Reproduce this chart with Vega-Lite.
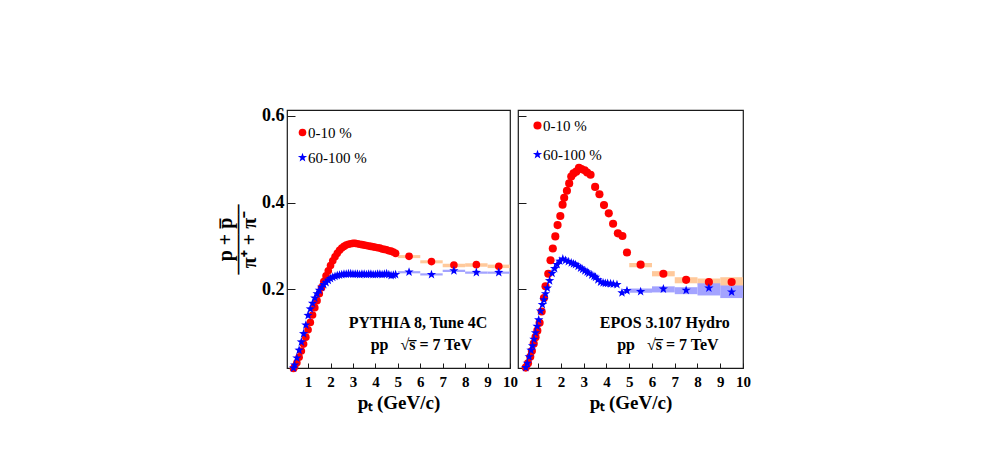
{
  "$schema": "https://vega.github.io/schema/vega-lite/v6.json",
  "background": "white",
  "padding": {"left": 214, "top": 106, "right": 5, "bottom": 5},
  "config": {
    "view": {"stroke": "#1a1a1a", "strokeWidth": 1.2},
    "font": "Liberation Serif",
    "axis": {"grid": false, "domain": false, "tickColor": "#1a1a1a", "labelColor": "black", "titleColor": "black", "labelFont": "Liberation Serif", "titleFont": "Liberation Serif", "labelFontWeight": "bold", "titleFontWeight": "bold", "labelOverlap": false, "labelFlush": false, "labelSeparation": 0},
    "axisX": {"tickSize": -5, "labelFontSize": 15, "labelPadding": 11, "titleFontSize": 19, "titlePadding": 4},
    "axisY": {"tickSize": -8, "labelFontSize": 18, "labelPadding": 11},
    "legend": {"orient": "none", "labelFont": "Liberation Serif", "labelFontSize": 15, "labelColor": "black", "symbolSize": 60, "labelOffset": -2, "symbolStrokeWidth": 0, "padding": 0}
  },
  "datasets": {
    "py": [
      {"pt":0.35,"v":0.018,"s":"0-10 %"},{"pt":0.4,"v":0.022,"s":"0-10 %"},{"pt":0.5,"v":0.031,"s":"0-10 %"},{"pt":0.6,"v":0.044,"s":"0-10 %"},{"pt":0.7,"v":0.058,"s":"0-10 %"},{"pt":0.8,"v":0.074,"s":"0-10 %"},{"pt":0.9,"v":0.09,"s":"0-10 %"},{"pt":1.0,"v":0.107,"s":"0-10 %"},{"pt":1.1,"v":0.124,"s":"0-10 %"},{"pt":1.2,"v":0.141,"s":"0-10 %"},{"pt":1.3,"v":0.158,"s":"0-10 %"},{"pt":1.4,"v":0.174,"s":"0-10 %"},{"pt":1.5,"v":0.19,"s":"0-10 %"},{"pt":1.6,"v":0.204,"s":"0-10 %"},{"pt":1.7,"v":0.218,"s":"0-10 %"},{"pt":1.8,"v":0.231,"s":"0-10 %"},{"pt":1.9,"v":0.243,"s":"0-10 %"},{"pt":2.0,"v":0.255,"s":"0-10 %"},{"pt":2.1,"v":0.266,"s":"0-10 %"},{"pt":2.2,"v":0.275,"s":"0-10 %"},{"pt":2.3,"v":0.283,"s":"0-10 %"},{"pt":2.4,"v":0.29,"s":"0-10 %"},{"pt":2.5,"v":0.295,"s":"0-10 %"},{"pt":2.6,"v":0.299,"s":"0-10 %"},{"pt":2.7,"v":0.302,"s":"0-10 %"},{"pt":2.8,"v":0.304,"s":"0-10 %"},{"pt":2.9,"v":0.305,"s":"0-10 %"},{"pt":3.0,"v":0.306,"s":"0-10 %"},{"pt":3.1,"v":0.306,"s":"0-10 %"},{"pt":3.2,"v":0.305,"s":"0-10 %"},{"pt":3.3,"v":0.304,"s":"0-10 %"},{"pt":3.4,"v":0.303,"s":"0-10 %"},{"pt":3.5,"v":0.302,"s":"0-10 %"},{"pt":3.6,"v":0.301,"s":"0-10 %"},{"pt":3.7,"v":0.3,"s":"0-10 %"},{"pt":3.8,"v":0.299,"s":"0-10 %"},{"pt":3.9,"v":0.298,"s":"0-10 %"},{"pt":4.0,"v":0.297,"s":"0-10 %"},{"pt":4.1,"v":0.296,"s":"0-10 %"},{"pt":4.2,"v":0.295,"s":"0-10 %"},{"pt":4.3,"v":0.293,"s":"0-10 %"},{"pt":4.4,"v":0.292,"s":"0-10 %"},{"pt":4.5,"v":0.291,"s":"0-10 %"},{"pt":4.6,"v":0.289,"s":"0-10 %"},{"pt":4.7,"v":0.288,"s":"0-10 %"},{"pt":4.8,"v":0.286,"s":"0-10 %"},{"pt":4.9,"v":0.283,"s":"0-10 %"},{"pt":5.5,"v":0.276,"s":"0-10 %"},{"pt":6.5,"v":0.264,"s":"0-10 %"},{"pt":7.5,"v":0.256,"s":"0-10 %"},{"pt":8.5,"v":0.257,"s":"0-10 %"},{"pt":9.5,"v":0.253,"s":"0-10 %"},
      {"pt":0.35,"v":0.019,"s":"60-100 %"},{"pt":0.4,"v":0.026,"s":"60-100 %"},{"pt":0.5,"v":0.042,"s":"60-100 %"},{"pt":0.6,"v":0.06,"s":"60-100 %"},{"pt":0.7,"v":0.079,"s":"60-100 %"},{"pt":0.8,"v":0.098,"s":"60-100 %"},{"pt":0.9,"v":0.118,"s":"60-100 %"},{"pt":1.0,"v":0.14,"s":"60-100 %"},{"pt":1.1,"v":0.155,"s":"60-100 %"},{"pt":1.2,"v":0.168,"s":"60-100 %"},{"pt":1.3,"v":0.18,"s":"60-100 %"},{"pt":1.4,"v":0.19,"s":"60-100 %"},{"pt":1.5,"v":0.198,"s":"60-100 %"},{"pt":1.6,"v":0.205,"s":"60-100 %"},{"pt":1.7,"v":0.211,"s":"60-100 %"},{"pt":1.8,"v":0.216,"s":"60-100 %"},{"pt":1.9,"v":0.221,"s":"60-100 %"},{"pt":2.0,"v":0.225,"s":"60-100 %"},{"pt":2.1,"v":0.228,"s":"60-100 %"},{"pt":2.2,"v":0.23,"s":"60-100 %"},{"pt":2.3,"v":0.232,"s":"60-100 %"},{"pt":2.4,"v":0.233,"s":"60-100 %"},{"pt":2.5,"v":0.234,"s":"60-100 %"},{"pt":2.6,"v":0.235,"s":"60-100 %"},{"pt":2.7,"v":0.235,"s":"60-100 %"},{"pt":2.8,"v":0.236,"s":"60-100 %"},{"pt":2.9,"v":0.236,"s":"60-100 %"},{"pt":3.0,"v":0.235,"s":"60-100 %"},{"pt":3.1,"v":0.235,"s":"60-100 %"},{"pt":3.2,"v":0.235,"s":"60-100 %"},{"pt":3.3,"v":0.234,"s":"60-100 %"},{"pt":3.4,"v":0.235,"s":"60-100 %"},{"pt":3.5,"v":0.235,"s":"60-100 %"},{"pt":3.6,"v":0.234,"s":"60-100 %"},{"pt":3.7,"v":0.235,"s":"60-100 %"},{"pt":3.8,"v":0.235,"s":"60-100 %"},{"pt":3.9,"v":0.234,"s":"60-100 %"},{"pt":4.0,"v":0.234,"s":"60-100 %"},{"pt":4.1,"v":0.235,"s":"60-100 %"},{"pt":4.2,"v":0.235,"s":"60-100 %"},{"pt":4.3,"v":0.234,"s":"60-100 %"},{"pt":4.4,"v":0.235,"s":"60-100 %"},{"pt":4.5,"v":0.236,"s":"60-100 %"},{"pt":4.6,"v":0.234,"s":"60-100 %"},{"pt":4.7,"v":0.232,"s":"60-100 %"},{"pt":4.8,"v":0.233,"s":"60-100 %"},{"pt":4.9,"v":0.234,"s":"60-100 %"},{"pt":5.5,"v":0.24,"s":"60-100 %"},{"pt":6.5,"v":0.234,"s":"60-100 %"},{"pt":7.5,"v":0.243,"s":"60-100 %"},{"pt":8.5,"v":0.239,"s":"60-100 %"},{"pt":9.5,"v":0.239,"s":"60-100 %"}
    ],
    "pySys": [
      {"lo":5,"hi":6,"y1":0.272,"y2":0.279,"band":"r"},{"lo":6,"hi":7,"y1":0.26,"y2":0.267,"band":"r"},{"lo":7,"hi":8,"y1":0.251,"y2":0.259,"band":"r"},{"lo":8,"hi":9,"y1":0.252,"y2":0.26,"band":"r"},{"lo":9,"hi":10,"y1":0.249,"y2":0.257,"band":"r"},
      {"lo":5,"hi":6,"y1":0.237,"y2":0.242,"band":"b"},{"lo":6,"hi":7,"y1":0.232,"y2":0.237,"band":"b"},{"lo":7,"hi":8,"y1":0.24,"y2":0.245,"band":"b"},{"lo":8,"hi":9,"y1":0.236,"y2":0.241,"band":"b"},{"lo":9,"hi":10,"y1":0.236,"y2":0.241,"band":"b"}
    ],
    "ep": [
      {"pt":0.45,"v":0.02,"s":"0-10 %"},{"pt":0.55,"v":0.03,"s":"0-10 %"},{"pt":0.65,"v":0.045,"s":"0-10 %"},{"pt":0.72,"v":0.058,"s":"0-10 %"},{"pt":0.8,"v":0.075,"s":"0-10 %"},{"pt":0.88,"v":0.09,"s":"0-10 %"},{"pt":0.96,"v":0.105,"s":"0-10 %"},{"pt":1.06,"v":0.123,"s":"0-10 %"},{"pt":1.15,"v":0.149,"s":"0-10 %"},{"pt":1.25,"v":0.18,"s":"0-10 %"},{"pt":1.32,"v":0.207,"s":"0-10 %"},{"pt":1.44,"v":0.236,"s":"0-10 %"},{"pt":1.54,"v":0.267,"s":"0-10 %"},{"pt":1.64,"v":0.294,"s":"0-10 %"},{"pt":1.75,"v":0.322,"s":"0-10 %"},{"pt":1.85,"v":0.348,"s":"0-10 %"},{"pt":1.97,"v":0.369,"s":"0-10 %"},{"pt":2.07,"v":0.395,"s":"0-10 %"},{"pt":2.14,"v":0.411,"s":"0-10 %"},{"pt":2.26,"v":0.427,"s":"0-10 %"},{"pt":2.36,"v":0.444,"s":"0-10 %"},{"pt":2.45,"v":0.46,"s":"0-10 %"},{"pt":2.55,"v":0.467,"s":"0-10 %"},{"pt":2.67,"v":0.471,"s":"0-10 %"},{"pt":2.79,"v":0.48,"s":"0-10 %"},{"pt":2.9,"v":0.477,"s":"0-10 %"},{"pt":3.04,"v":0.474,"s":"0-10 %"},{"pt":3.15,"v":0.469,"s":"0-10 %"},{"pt":3.3,"v":0.464,"s":"0-10 %"},{"pt":3.5,"v":0.436,"s":"0-10 %"},{"pt":3.69,"v":0.419,"s":"0-10 %"},{"pt":3.89,"v":0.394,"s":"0-10 %"},{"pt":4.1,"v":0.375,"s":"0-10 %"},{"pt":4.29,"v":0.351,"s":"0-10 %"},{"pt":4.5,"v":0.329,"s":"0-10 %"},{"pt":4.7,"v":0.323,"s":"0-10 %"},{"pt":4.9,"v":0.285,"s":"0-10 %"},{"pt":5.5,"v":0.257,"s":"0-10 %"},{"pt":6.5,"v":0.236,"s":"0-10 %"},{"pt":7.5,"v":0.222,"s":"0-10 %"},{"pt":8.5,"v":0.217,"s":"0-10 %"},{"pt":9.5,"v":0.217,"s":"0-10 %"},
      {"pt":0.45,"v":0.02,"s":"60-100 %"},{"pt":0.52,"v":0.03,"s":"60-100 %"},{"pt":0.6,"v":0.045,"s":"60-100 %"},{"pt":0.68,"v":0.06,"s":"60-100 %"},{"pt":0.75,"v":0.07,"s":"60-100 %"},{"pt":0.81,"v":0.085,"s":"60-100 %"},{"pt":0.88,"v":0.1,"s":"60-100 %"},{"pt":0.95,"v":0.115,"s":"60-100 %"},{"pt":1.02,"v":0.13,"s":"60-100 %"},{"pt":1.1,"v":0.15,"s":"60-100 %"},{"pt":1.18,"v":0.165,"s":"60-100 %"},{"pt":1.25,"v":0.176,"s":"60-100 %"},{"pt":1.32,"v":0.19,"s":"60-100 %"},{"pt":1.4,"v":0.203,"s":"60-100 %"},{"pt":1.5,"v":0.22,"s":"60-100 %"},{"pt":1.61,"v":0.237,"s":"60-100 %"},{"pt":1.72,"v":0.248,"s":"60-100 %"},{"pt":1.83,"v":0.257,"s":"60-100 %"},{"pt":1.95,"v":0.265,"s":"60-100 %"},{"pt":2.08,"v":0.27,"s":"60-100 %"},{"pt":2.2,"v":0.267,"s":"60-100 %"},{"pt":2.32,"v":0.264,"s":"60-100 %"},{"pt":2.45,"v":0.261,"s":"60-100 %"},{"pt":2.55,"v":0.259,"s":"60-100 %"},{"pt":2.64,"v":0.257,"s":"60-100 %"},{"pt":2.75,"v":0.253,"s":"60-100 %"},{"pt":2.86,"v":0.249,"s":"60-100 %"},{"pt":2.95,"v":0.246,"s":"60-100 %"},{"pt":3.05,"v":0.243,"s":"60-100 %"},{"pt":3.15,"v":0.24,"s":"60-100 %"},{"pt":3.22,"v":0.237,"s":"60-100 %"},{"pt":3.35,"v":0.233,"s":"60-100 %"},{"pt":3.45,"v":0.23,"s":"60-100 %"},{"pt":3.52,"v":0.228,"s":"60-100 %"},{"pt":3.62,"v":0.222,"s":"60-100 %"},{"pt":3.74,"v":0.217,"s":"60-100 %"},{"pt":3.85,"v":0.215,"s":"60-100 %"},{"pt":3.95,"v":0.214,"s":"60-100 %"},{"pt":4.05,"v":0.214,"s":"60-100 %"},{"pt":4.18,"v":0.213,"s":"60-100 %"},{"pt":4.3,"v":0.212,"s":"60-100 %"},{"pt":4.46,"v":0.211,"s":"60-100 %"},{"pt":4.68,"v":0.192,"s":"60-100 %"},{"pt":4.9,"v":0.197,"s":"60-100 %"},{"pt":5.5,"v":0.195,"s":"60-100 %"},{"pt":6.5,"v":0.201,"s":"60-100 %"},{"pt":7.5,"v":0.198,"s":"60-100 %"},{"pt":8.5,"v":0.203,"s":"60-100 %"},{"pt":9.5,"v":0.194,"s":"60-100 %"}
    ],
    "epSys": [
      {"lo":5,"hi":6,"y1":0.251,"y2":0.261,"band":"r"},{"lo":6,"hi":7,"y1":0.23,"y2":0.242,"band":"r"},{"lo":7,"hi":8,"y1":0.214,"y2":0.228,"band":"r"},{"lo":8,"hi":9,"y1":0.211,"y2":0.225,"band":"r"},{"lo":9,"hi":10,"y1":0.208,"y2":0.228,"band":"r"},
      {"lo":5,"hi":6,"y1":0.192,"y2":0.202,"band":"b"},{"lo":6,"hi":7,"y1":0.193,"y2":0.207,"band":"b"},{"lo":7,"hi":8,"y1":0.189,"y2":0.205,"band":"b"},{"lo":8,"hi":9,"y1":0.186,"y2":0.214,"band":"b"},{"lo":9,"hi":10,"y1":0.18,"y2":0.209,"band":"b"}
    ]
  },
  "bounds": "flush",
  "spacing": 8,
  "resolve": {
    "scale": {"x": "independent", "y": "independent", "color": "independent", "shape": "independent", "fill": "independent", "size": "independent"},
    "legend": {"color": "independent", "shape": "independent"}
  },
  "hconcat": [
    {
      "width": 223,
      "height": 258,
      "layer": [
        {
          "data": {"name": "pySys"},
          "mark": {"type": "rect"},
          "encoding": {
            "x": {"field": "lo", "type": "quantitative", "scale": {"domain": [0.06, 10], "nice": false, "zero": false}, "axis": {"values": [1,2,3,4,5,6,7,8,9,10], "tickCount": 20, "format": "d", "title": "pₜ (GeV/c)"}},
            "x2": {"field": "hi"},
            "y": {"field": "y1", "type": "quantitative", "scale": {"domain": [0.019, 0.613], "nice": false, "zero": false},
              "axis": {"values": [0.2, 0.4, 0.6], "tickCount": 10, "format": ".1f", "title": ["p + p̅", "———–", "π⁺ + π⁻"], "titleFontSize": 20, "titleLineHeight": 12, "titlePadding": 2}},
            "y2": {"field": "y2"},
            "fill": {"field": "band", "type": "nominal", "scale": {"domain": ["r", "b"], "range": ["#ffc99b", "#a3a3ff"]}, "legend": null}
          }
        },
        {
          "data": {"name": "py"},
          "mark": {"type": "point", "filled": true, "opacity": 1},
          "encoding": {
            "x": {"field": "pt", "type": "quantitative"},
            "y": {"field": "v", "type": "quantitative"},
            "color": {"field": "s", "type": "nominal", "scale": {"domain": ["0-10 %", "60-100 %"], "range": ["#ff0000", "#0000ff"]},
              "legend": {"title": null, "legendX": 8, "legendY": 15, "rowPadding": 9}},
            "shape": {"field": "s", "type": "nominal", "scale": {"domain": ["0-10 %", "60-100 %"], "range": ["circle", "M0,-1L0.235,-0.324L0.951,-0.309L0.38,0.124L0.588,0.809L0,0.4L-0.588,0.809L-0.38,0.124L-0.951,-0.309L-0.235,-0.324Z"]},
              "legend": {"title": null, "legendX": 8, "legendY": 15, "rowPadding": 9}},
            "size": {"field": "s", "type": "ordinal", "scale": {"domain": ["0-10 %", "60-100 %"], "range": [58, 95]}, "legend": null}
          }
        },
        {
          "data": {"values": [{}]},
          "mark": {"type": "text", "font": "Liberation Serif", "fontWeight": "bold", "fontSize": 16, "color": "black", "align": "center", "baseline": "middle"},
          "encoding": {"x": {"datum": 5.9}, "y": {"datum": 0.123}, "text": {"value": "PYTHIA 8, Tune 4C"}}
        },
        {
          "data": {"values": [{}]},
          "mark": {"type": "text", "font": "Liberation Serif", "fontWeight": "bold", "fontSize": 16, "color": "black", "align": "center", "baseline": "middle"},
          "encoding": {"x": {"datum": 6.05}, "y": {"datum": 0.071}, "text": {"value": "pp\u00a0\u00a0\u00a0√s̅ = 7 TeV"}}
        }
      ]
    },
    {
      "width": 225,
      "height": 258,
      "layer": [
        {
          "data": {"name": "epSys"},
          "mark": {"type": "rect"},
          "encoding": {
            "x": {"field": "lo", "type": "quantitative", "scale": {"domain": [0.11, 10], "nice": false, "zero": false}, "axis": {"values": [1,2,3,4,5,6,7,8,9,10], "tickCount": 20, "format": "d", "title": "pₜ (GeV/c)"}},
            "x2": {"field": "hi"},
            "y": {"field": "y1", "type": "quantitative", "scale": {"domain": [0.019, 0.613], "nice": false, "zero": false},
              "axis": {"values": [0.2, 0.4, 0.6], "tickCount": 10, "labels": false, "title": null}},
            "y2": {"field": "y2"},
            "fill": {"field": "band", "type": "nominal", "scale": {"domain": ["r", "b"], "range": ["#ffc99b", "#a3a3ff"]}, "legend": null}
          }
        },
        {
          "data": {"name": "ep"},
          "mark": {"type": "point", "filled": true, "opacity": 1},
          "encoding": {
            "x": {"field": "pt", "type": "quantitative"},
            "y": {"field": "v", "type": "quantitative"},
            "color": {"field": "s", "type": "nominal", "scale": {"domain": ["0-10 %", "60-100 %"], "range": ["#ff0000", "#0000ff"]},
              "legend": {"title": null, "legendX": 12, "legendY": 8, "rowPadding": 13}},
            "shape": {"field": "s", "type": "nominal", "scale": {"domain": ["0-10 %", "60-100 %"], "range": ["circle", "M0,-1L0.235,-0.324L0.951,-0.309L0.38,0.124L0.588,0.809L0,0.4L-0.588,0.809L-0.38,0.124L-0.951,-0.309L-0.235,-0.324Z"]},
              "legend": {"title": null, "legendX": 12, "legendY": 8, "rowPadding": 13}},
            "size": {"field": "s", "type": "ordinal", "scale": {"domain": ["0-10 %", "60-100 %"], "range": [66, 95]}, "legend": null}
          }
        },
        {
          "data": {"values": [{}]},
          "mark": {"type": "text", "font": "Liberation Serif", "fontWeight": "bold", "fontSize": 16, "color": "black", "align": "center", "baseline": "middle"},
          "encoding": {"x": {"datum": 6.56}, "y": {"datum": 0.123}, "text": {"value": "EPOS 3.107 Hydro"}}
        },
        {
          "data": {"values": [{}]},
          "mark": {"type": "text", "font": "Liberation Serif", "fontWeight": "bold", "fontSize": 16, "color": "black", "align": "center", "baseline": "middle"},
          "encoding": {"x": {"datum": 6.7}, "y": {"datum": 0.073}, "text": {"value": "pp\u00a0\u00a0\u00a0√s̅ = 7 TeV"}}
        }
      ]
    }
  ]
}
